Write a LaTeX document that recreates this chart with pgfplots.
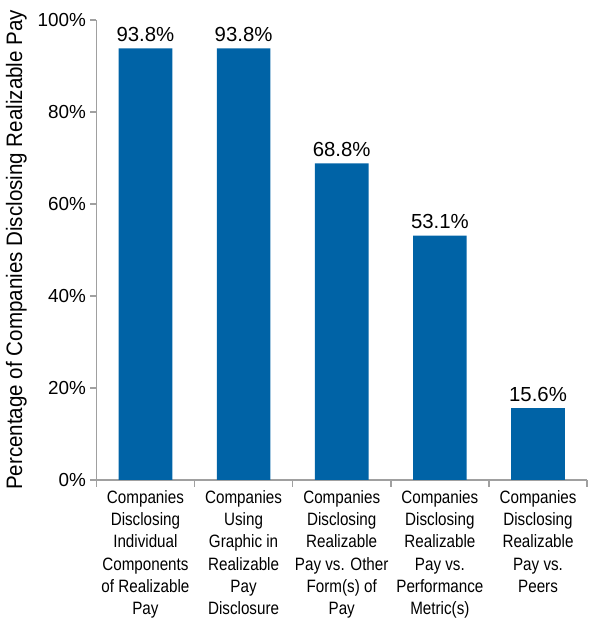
\documentclass[border=0pt]{standalone}
\usepackage{pgfplots}
\pgfplotsset{compat=1.18}
\usepackage{fontspec}
\setmainfont{Liberation Sans}
\newfontfamily\condfont[FakeStretch=0.85]{Liberation Sans}
\newfontfamily\labfont[FakeStretch=0.92]{Liberation Sans}
\definecolor{barblue}{HTML}{0063A6}
\definecolor{axgray}{HTML}{A0A0A0}
\begin{document}
\begin{tikzpicture}[x=1pt,y=1pt]
\begin{axis}[
  scale only axis,
  width=494pt, height=463pt,
  xmin=-0.5, xmax=4.5,
  ymin=0, ymax=100,
  axis x line*=bottom, axis y line*=left,
  axis line style={axgray, line width=1.6pt, -},
  xtick={0,1,2,3,4},
  xticklabels={
    {Companies\\Disclosing\\Individual\\Components\\of Realizable\\Pay},
    {Companies\\Using\\Graphic in\\Realizable\\Pay\\Disclosure},
    {Companies\\Disclosing\\Realizable\\Pay vs. Other\\Form(s) of\\Pay},
    {Companies\\Disclosing\\Realizable\\Pay vs.\\Performance\\Metric(s)},
    {Companies\\Disclosing\\Realizable\\Pay vs.\\Peers}},
  xticklabel style={align=center, font=\condfont\fontsize{18}{22.5}\selectfont, yshift=-1pt},
  major x tick style={draw=none},
  minor xtick={-0.5,0.5,1.5,2.5,3.5,4.5},
  minor x tick style={axgray, line width=1.6pt},
  minor tick length=7pt,
  ytick={0,20,40,60,80,100},
  yticklabels={0\%,20\%,40\%,60\%,80\%,100\%},
  yticklabel style={font=\fontsize{19}{21}\selectfont, xshift=-1pt},
  major y tick style={axgray, line width=1.6pt},
  major tick length=6pt,
  tick align=outside,
  /pgf/number format/assume math mode=true,
  ylabel={Percentage of Companies Disclosing Realizable Pay},
  ylabel style={font=\labfont\fontsize{22.5}{24}\selectfont, yshift=4pt},
  ybar, bar width=54pt,
  nodes near coords={\pgfmathprintnumber[fixed,precision=1,fixed zerofill]{\pgfplotspointmeta}\%},
  nodes near coords style={font=\fontsize{20.5}{22}\selectfont, black, yshift=3pt},
  clip=false,
]
\addplot[fill=barblue, draw=none] coordinates {(0,93.8) (1,93.8) (2,68.8) (3,53.1) (4,15.6)};
\path ([xshift=-97pt,yshift=-139pt]rel axis cs:0,0) rectangle ([xshift=2pt,yshift=20pt]rel axis cs:1,1);
\end{axis}
\end{tikzpicture}
\end{document}
